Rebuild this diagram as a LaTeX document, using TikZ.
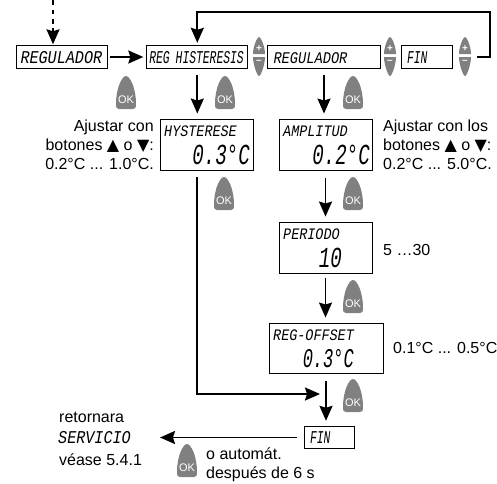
\documentclass[tikz,border=0pt]{standalone}
\usepackage{fontspec}
\setmainfont{Liberation Sans}
\newfontfamily\lcdwide[FakeStretch=.84,UprightFont=* Italic]{Liberation Mono}
\newfontfamily\lcdthin[FakeStretch=.63,UprightFont=* Italic]{Liberation Mono}
\newfontfamily\lcdbig[FakeStretch=.66,UprightFont=* Italic]{Liberation Mono}
\newfontfamily\symfont{DejaVu Sans}
\usepackage{tikz}
\usetikzlibrary{arrows.meta,positioning,calc}
\definecolor{btngray}{gray}{0.5}
\tikzset{
  x=1pt,y=-1pt,
  lcdbox/.style={rectangle,draw,line width=0.9pt,inner sep=0pt},
  lcdrow/.style={lcdbox,minimum height=22.5pt,text height=12pt,text depth=0pt,align=left},
  lcdtop/.style={font=\lcdwide\fontsize{18}{18}\selectfont},
  lcdmid/.style={font=\lcdwide\fontsize{16.3}{16.3}\selectfont},
  lcdnarrow/.style={font=\lcdthin\fontsize{18}{18}\selectfont},
  lcdhead/.style={inner sep=0pt,anchor=west,font=\lcdwide\fontsize{16}{16}\selectfont},
  lcdval/.style={inner sep=0pt,anchor=east,font=\lcdbig\fontsize{29}{29}\selectfont},
  txt/.style={inner sep=0pt,font=\fontsize{16}{19}\selectfont},
  de/.style={-{Stealth[length=15pt,width=13pt,inset=2pt]},line width=1.9pt},
  dde/.style={dash pattern=on 4.5pt off 5pt,line width=2.6pt},
  okbtn/.pic={
    \fill[btngray] (-10,28) .. controls (-10,12) and (-4,0) .. (0,0)
      .. controls (4,0) and (10,12) .. (10,28)
      .. controls (10,32) and (9,33) .. (7,33) -- (-7,33)
      .. controls (-9,33) and (-10,32) .. (-10,28) -- cycle;
    \node[white,inner sep=0pt,font=\fontsize{11}{11}\selectfont] (-txt) at (0,24) {OK};
  },
  pmbtn/.pic={
    \fill[btngray] (-6,-2) .. controls (-6,-9) and (-2,-19) .. (0,-19)
      .. controls (2,-19) and (6,-9) .. (6,-2) -- cycle;
    \fill[btngray] (-6,1) .. controls (-6,8) and (-2,20) .. (0,20)
      .. controls (2,20) and (6,8) .. (6,1) -- cycle;
    \node[white,inner sep=0pt,font=\bfseries\fontsize{10}{10}\selectfont] (-plus) at (0,-7) {+};
    \node[white,inner sep=0pt,font=\bfseries\fontsize{10}{10}\selectfont] (-minus) at (0,5.5) {--};
  }
}
\newcommand{\triup}{{\symfont ▲}}
\newcommand{\tridown}{{\symfont ▼}}
\begin{document}
\begin{tikzpicture}
\useasboundingbox (0,0) rectangle (497,483);
% top row
\node[lcdrow,lcdtop,minimum width=91pt,text width=82pt] (reg1) at (61.5,57) {REGULADOR};
\node[lcdrow,lcdnarrow,minimum width=101pt,text width=96pt] (reghyst) at (197.3,57) {REG HISTERESIS};
\node[lcdrow,lcdmid,minimum width=113pt,text width=101pt] (reg2) at (324,57) {REGULADOR};
\node[lcdrow,lcdnarrow,minimum width=51pt,text width=39pt] (fin1) at (426.5,57) {FIN};
\pic (pm1) at (259,56) {pmbtn};
\pic (pm2) at (390,56) {pmbtn};
\pic (pm3) at (465,56) {pmbtn};
\pic (ok1) at (126,76) {okbtn};
\pic (ok2) at (225,76) {okbtn};
\pic (ok3) at (353,76) {okbtn};
% value boxes
\node[lcdbox,minimum width=93pt,minimum height=51pt] (hyst) at (206.5,144.5) {};
\node[lcdhead] (hysthead) at (164,131) {HYSTERESE};
\node[lcdval] (hystval) at (250,155) {0.3°C};
\node[lcdbox,minimum width=93pt,minimum height=51pt] (ampl) at (325.5,144.5) {};
\node[lcdhead] (amplhead) at (283,131) {AMPLITUD};
\node[lcdval] (amplval) at (370,155) {0.2°C};
\node[lcdbox,minimum width=93pt,minimum height=51pt] (period) at (325.5,247.5) {};
\node[lcdhead] (periodhead) at (283,234) {PERIODO};
\node[lcdval] (periodval) at (342,258) {10};
\node[lcdbox,minimum width=114pt,minimum height=50pt] (offset) at (326,348) {};
\node[lcdhead] (offsethead) at (273,335) {REG-OFFSET};
\node[lcdval,font=\lcdthin\fontsize{27}{27}\selectfont] (offsetval) at (354,359) {0.3°C};
\node[lcdrow,lcdnarrow,minimum width=50pt,text width=38pt] (fin2) at (329,437.5) {FIN};
\pic (ok4) at (224,177) {okbtn};
\pic (ok5) at (353,177) {okbtn};
\pic (ok6) at (353,280) {okbtn};
\pic (ok7) at (353,379) {okbtn};
\pic (ok8) at (187,444) {okbtn};
% side texts
\node[txt,anchor=east,align=right] (adj1) at (154,145) {Ajustar con\\botones \triup{} o \tridown{}:\\0.2°C ... 1.0°C.};
\node[txt,anchor=west,align=left] (adj2) at (383,145) {Ajustar con los\\botones \triup{} o \tridown{}:\\0.2°C ... 5.0°C.};
\node[txt,anchor=west] (range1) at (383,250) {5 …30};
\node[txt,anchor=west] (range2) at (393,348) {0.1°C ... 0.5°C};
\node[txt,anchor=west] (ret) at (59,417) {retornara};
\node[inner sep=0pt,anchor=west,font=\lcdwide\fontsize{18}{18}\selectfont] (servicio) at (58,438) {SERVICIO};
\node[txt,anchor=west] (vease) at (59,460) {véase 5.4.1};
\node[txt,anchor=west,align=left] (auto) at (206,464.5) {o automát.\\después de 6 s};
% connectors
\coordinate (entry) at (53,0);
\coordinate (stem) at (53,28);
\coordinate (back) at (477,56.5);
\coordinate (corner) at (490,12);
\coordinate (merge) at (320,394);
\draw[dde] (entry) -- (stem);
\draw[de,shorten >=1pt] (stem) -- (stem |- reg1.north);
\draw[de,shorten <=3pt,shorten >=3pt] (reg1) -- (reghyst);
\draw[de,line width=2pt,shorten >=2.5pt] (back) -| (corner) -| (reghyst.north);
\draw[de,shorten <=6pt,shorten >=5pt] (reghyst.south) -- (reghyst.south |- hyst.north);
\draw[de,shorten <=6pt,shorten >=5pt] (reg2.south) -- (reg2.south |- ampl.north);
\draw[de,shorten <=8pt,shorten >=5pt] (ampl.south) -- (ampl.south |- period.north);
\draw[de,shorten <=5pt,shorten >=5pt] (period.south) -- (period.south |- offset.north);
\draw[de,shorten <=8pt,shorten >=5pt] (offset.south) -- (offset.south |- fin2.north);
\draw[de] (reghyst.south |- hyst.south) ++(0,7) -- (reghyst.south |- merge) -- (merge);
\draw[de,shorten <=7pt,shorten >=29pt] (fin2.west) -- (fin2.west -| servicio.east);
\end{tikzpicture}
\end{document}
